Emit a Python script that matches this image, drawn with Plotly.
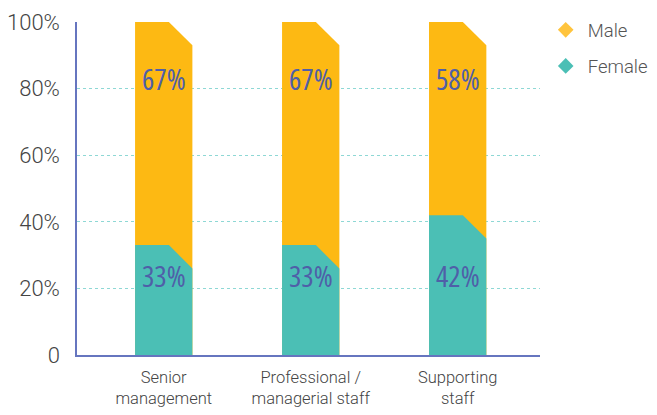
import plotly.graph_objects as go

categories = ["Senior<br>management", "Professional /<br>managerial staff", "Supporting<br>staff"]
male = [67, 67, 58]
female = [33, 33, 42]
male_labels = ["67%", "67%", "58%"]
female_labels = ["33%", "33%", "42%"]
yticks = [0, 20, 40, 60, 80, 100]
yticklabels = ["0", "20%", "40%", "60%", "80%", "100%"]

MALE_C = "#FDB913"
FEMALE_C = "#4BBFB5"
TEXT_C = "#4F5FA8"
AXIS_C = "#6675BF"
GRID_C = "#8ED8D5"

W = 0.39     # bar width in category units
CX = 0.16    # chamfer width (category units)
CY = 7.0     # chamfer height (value units)


def chamfer_poly(i, base, top):
    xs = [i - W / 2, i - W / 2, i + W / 2 - CX, i + W / 2, i + W / 2, i - W / 2]
    ys = [base, top, top, top - CY, base, base]
    return xs, ys


fig = go.Figure()

for i in range(len(categories)):
    total = male[i] + female[i]
    xs, ys = chamfer_poly(i, 0, total)
    fig.add_trace(go.Scatter(x=xs, y=ys, fill="toself", mode="lines",
                             line=dict(width=0, color=MALE_C), fillcolor=MALE_C,
                             showlegend=False, hoverinfo="skip"))
    xs, ys = chamfer_poly(i, 0, female[i])
    fig.add_trace(go.Scatter(x=xs, y=ys, fill="toself", mode="lines",
                             line=dict(width=0, color=FEMALE_C), fillcolor=FEMALE_C,
                             showlegend=False, hoverinfo="skip"))

# legend entries
fig.add_trace(go.Scatter(x=[None], y=[None], mode="markers", name="Male", legendgroup="m",
                         marker=dict(symbol="diamond", size=19, color="#FFC43D")))
fig.add_trace(go.Scatter(x=[None], y=[None], mode="markers", name="Female", legendgroup="f",
                         marker=dict(symbol="diamond", size=19, color=FEMALE_C)))

LABEL_FONT = dict(family="Open Sans, Roboto", size=29, color=TEXT_C)


def lab(t):
    return '<span style="font-stretch:75%;font-weight:500">' + t + '</span>'


for i in range(len(categories)):
    fig.add_annotation(x=i, y=83, text=lab(male_labels[i]), showarrow=False, font=LABEL_FONT)
    fig.add_annotation(x=i, y=24, text=lab(female_labels[i]), showarrow=False, font=LABEL_FONT)

fig.update_layout(
    width=649, height=407,
    margin=dict(l=69, r=117, t=14, b=60, autoexpand=False),
    paper_bgcolor="white", plot_bgcolor="white",
    font=dict(family="Roboto, Noto Sans, sans-serif", color="#555555", weight=300),
    legend=dict(x=1.008, y=1.032, xanchor="left", yanchor="top", itemwidth=34,
                font=dict(size=18.5, color="#555555", weight=300), itemsizing="constant",
                tracegroupgap=9),
    xaxis=dict(range=[-0.59, 2.56], tickmode="array", automargin=False,
               tickvals=list(range(len(categories))), ticktext=categories,
               showgrid=False, zeroline=False, showline=True, linecolor=AXIS_C,
               linewidth=1.5, ticks="", ticklabelstandoff=6,
               tickfont=dict(size=16.5, color="#444444", weight=300)),
    yaxis=dict(range=[0, 100], tickmode="array", tickvals=yticks, ticktext=yticklabels,
               automargin=False,
               showgrid=True, gridcolor=GRID_C, griddash="3px,3px", gridwidth=1,
               zeroline=False, showline=True, linecolor=AXIS_C, linewidth=1.5,
               ticks="", ticklabelstandoff=11,
               tickfont=dict(size=22, color="#444444", weight=300)),
)

fig.write_html("out.html")
